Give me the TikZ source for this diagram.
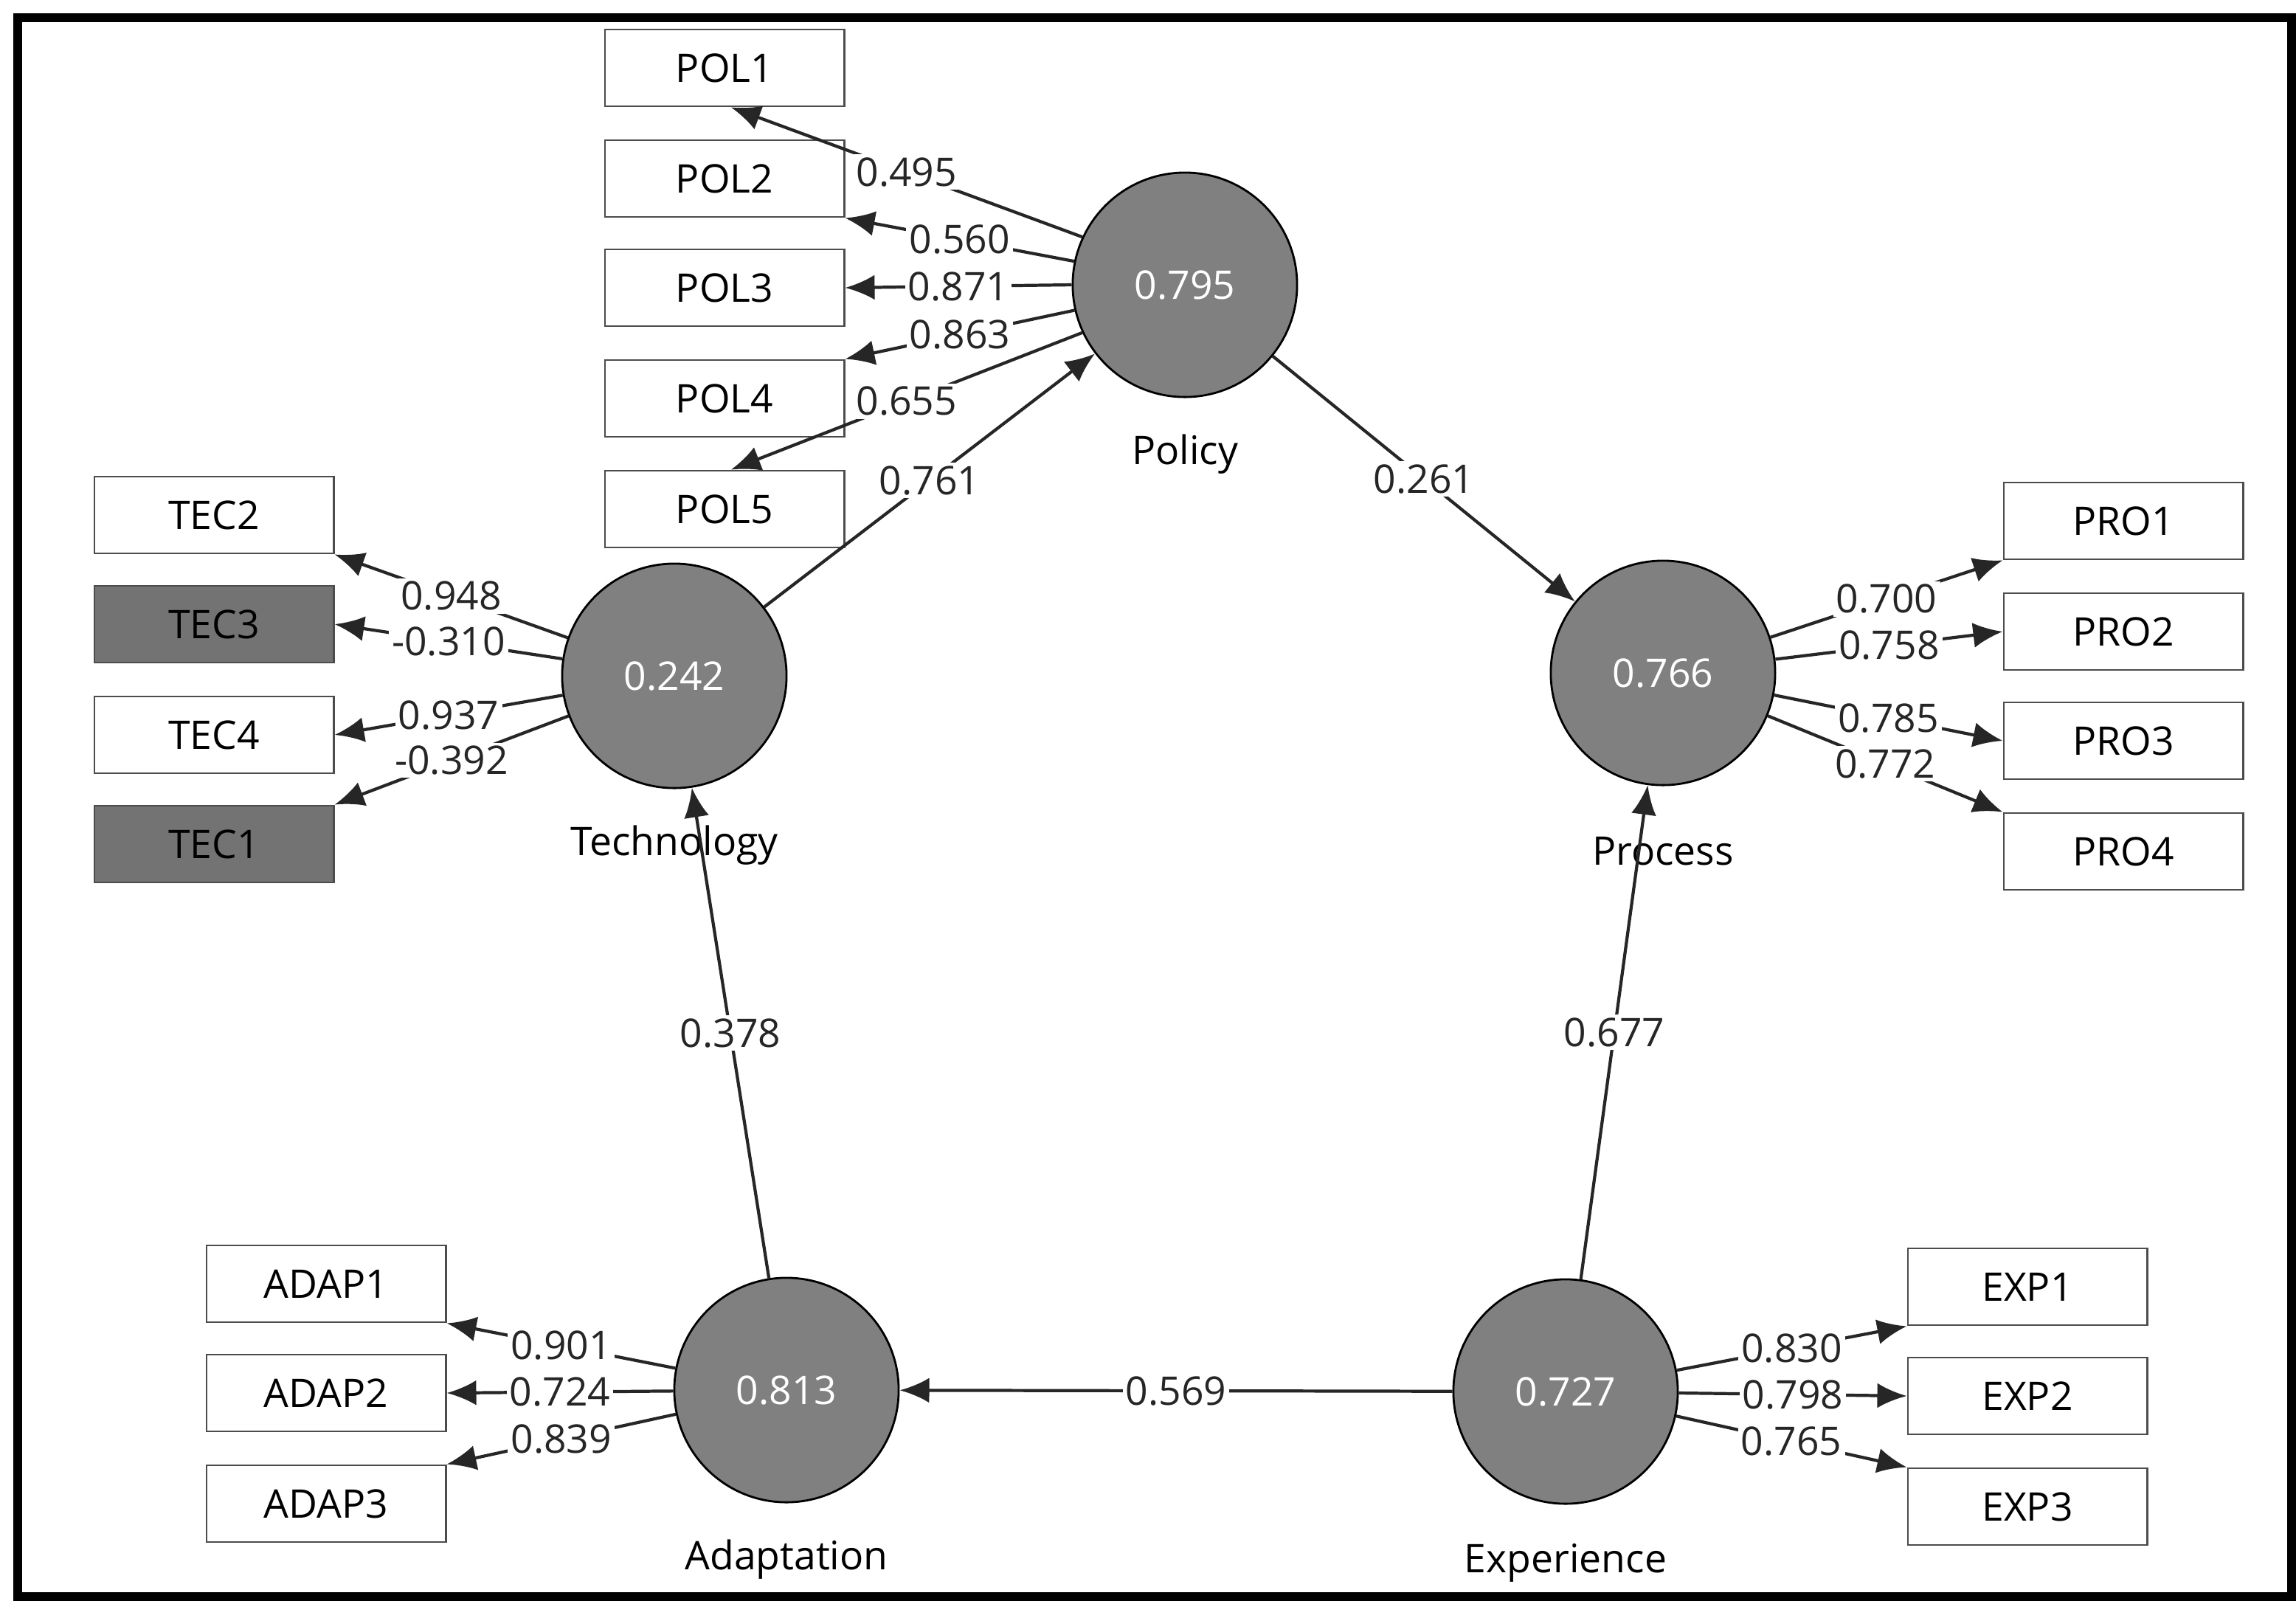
\documentclass[tikz,border=0pt]{standalone}
\usepackage{fontspec}
\setmainfont{Open Sans}
\usetikzlibrary{arrows.meta}
\begin{document}
\begin{tikzpicture}[x=0.01cm,y=-0.01cm,
  font=\fontsize{7.6}{9}\selectfont,
  lv/.style={circle,draw=black,fill=black!50,text=white,minimum size=1.52cm,inner sep=0pt},
  ind/.style={draw=black!70,fill=white,minimum width=1.62cm,minimum height=0.52cm,inner sep=0pt},
  gind/.style={ind,fill=black!55},
  lvcap/.style={font=\fontsize{7.6}{9}\selectfont},
  ar/.style={-{Latex[length=2mm,width=1.7mm]},black!85,line width=0.6pt},
  lab/.style={fill=white,inner sep=0.6pt,pos=0.5}]
\useasboundingbox (0,0) rectangle (1556,1086.5);
\draw[line width=1.6pt] (12,12) rectangle (1553,1082);
% latent variables
\node[lv] (pol) at (803,193) {0.795};
\node[lv] (tec) at (457,458) {0.242};
\node[lv] (pro) at (1127,456) {0.766};
\node[lv] (ada) at (533,942) {0.813};
\node[lv] (exp) at (1061,943) {0.727};
\node[lvcap] (polL) at (803,308) {Policy};
\node[lvcap] (tecL) at (457,573) {Technology};
\node[lvcap] (proL) at (1127,577) {Process};
\node[lvcap] (adaL) at (533,1057) {Adaptation};
\node[lvcap] (expL) at (1061,1059) {Experience};
% indicators
\node[ind] (p1) at (491,46) {POL1};
\node[ind] (p2) at (491,121) {POL2};
\node[ind] (p3) at (491,195) {POL3};
\node[ind] (p4) at (491,270) {POL4};
\node[ind] (p5) at (491,345) {POL5};
\node[ind] (t2) at (145,349) {TEC2};
\node[gind] (t3) at (145,423) {TEC3};
\node[ind] (t4) at (145,498) {TEC4};
\node[gind] (t1) at (145,572) {TEC1};
\node[ind] (r1) at (1439,353) {PRO1};
\node[ind] (r2) at (1439,428) {PRO2};
\node[ind] (r3) at (1439,502) {PRO3};
\node[ind] (r4) at (1439,577) {PRO4};
\node[ind] (a1) at (221,870) {ADAP1};
\node[ind] (a2) at (221,944) {ADAP2};
\node[ind] (a3) at (221,1019) {ADAP3};
\node[ind] (e1) at (1374,872) {EXP1};
\node[ind] (e2) at (1374,946) {EXP2};
\node[ind] (e3) at (1374,1021) {EXP3};
% outer loadings
\draw[ar] (pol.155) -- ([xshift=-22]p1.south east) node[lab] {0.495};
\draw[ar] (pol.168) -- (p2.south east) node[lab] {0.560};
\draw[ar] (pol.180) -- (p3.east) node[lab] {0.871};
\draw[ar] (pol.193) -- (p4.north east) node[lab] {0.863};
\draw[ar] (pol.205) -- ([xshift=-22]p5.north east) node[lab] {0.655};
\draw[ar] (tec) -- (t2.south east) node[lab] {0.948};
\draw[ar] (tec) -- (t3.east) node[lab] {-0.310};
\draw[ar] (tec) -- (t4.east) node[lab] {0.937};
\draw[ar] (tec) -- (t1.north east) node[lab] {-0.392};
\draw[ar] (pro) -- (r1.south west) node[lab] {0.700};
\draw[ar] (pro) -- (r2.west) node[lab] {0.758};
\draw[ar] (pro) -- (r3.west) node[lab] {0.785};
\draw[ar] (pro) -- (r4.north west) node[lab] {0.772};
\draw[ar] (ada) -- (a1.south east) node[lab] {0.901};
\draw[ar] (ada) -- (a2.east) node[lab] {0.724};
\draw[ar] (ada) -- (a3.north east) node[lab] {0.839};
\draw[ar] (exp) -- (e1.south west) node[lab] {0.830};
\draw[ar] (exp) -- (e2.west) node[lab] {0.798};
\draw[ar] (exp) -- (e3.north west) node[lab] {0.765};
% inner paths
\draw[ar] (tec) -- (pol) node[lab] {0.761};
\draw[ar] (pol) -- (pro) node[lab] {0.261};
\draw[ar] (ada) -- (tec) node[lab] {0.378};
\draw[ar] (exp) -- (pro) node[lab] {0.677};
\draw[ar] (exp) -- (ada) node[lab] {0.569};
\end{tikzpicture}
\end{document}
